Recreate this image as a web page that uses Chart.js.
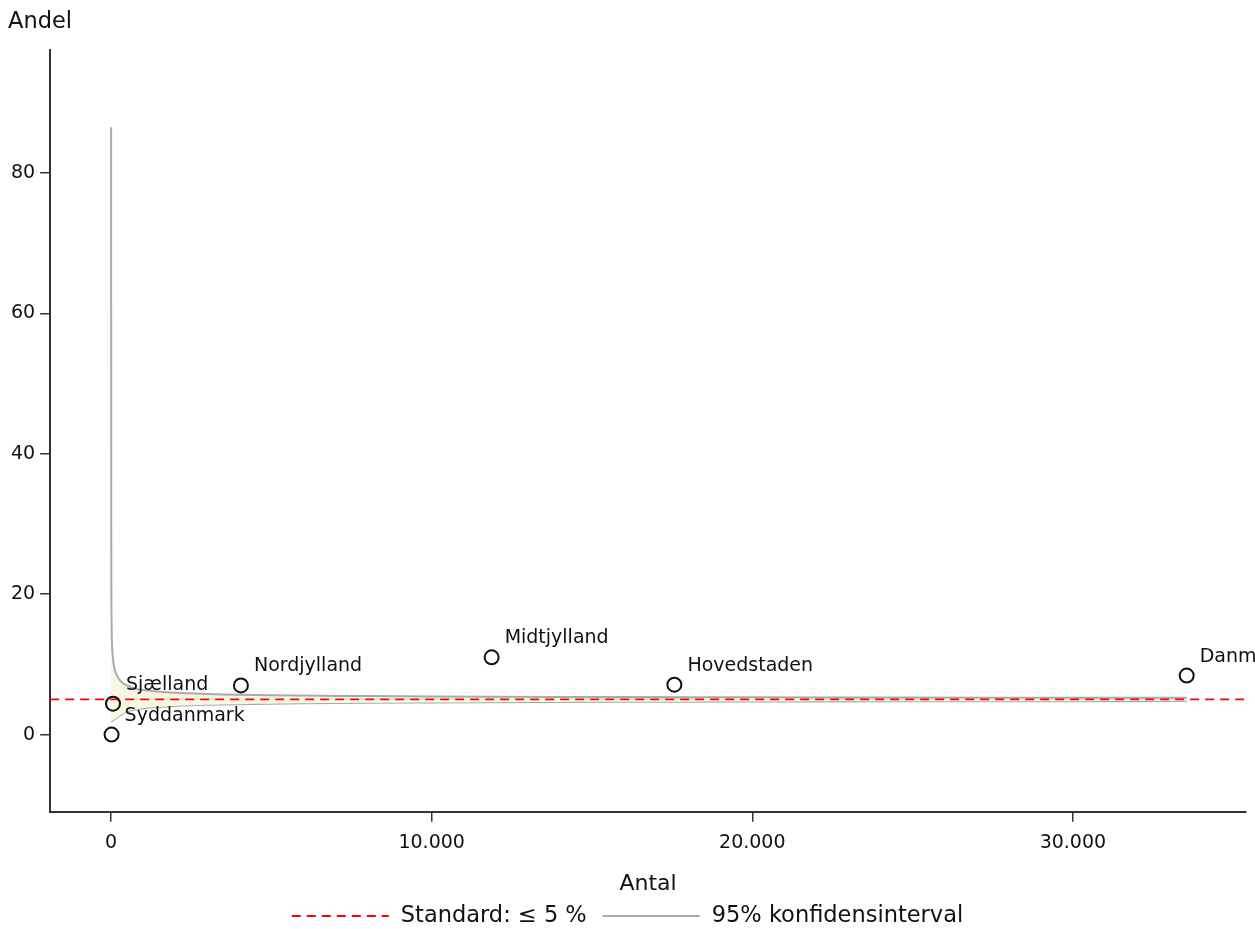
<!DOCTYPE html>
<html lang="da">
<head>
    <meta charset="UTF-8">
    <title>Andel og antal</title>
    <script src="https://cdn.jsdelivr.net/npm/chart.js"></script>
    <style>
        html, body { margin: 0; padding: 0; background: #fff; }
        #wrap { width: 1255px; height: 929px; }
    </style>
</head>
<body>
<div id="wrap"><canvas id="chart" width="1255" height="929"></canvas></div>
<script>
    // Regioner (punkter)
    const regions = ['Syddanmark', 'Sjælland', 'Nordjylland', 'Midtjylland', 'Hovedstaden', 'Danmark'];
    const regionN = [15, 60, 4050, 11870, 17570, 33550];
    const regionPct = [0, 4.4, 7.0, 11.0, 7.1, 8.4];

    // Tragt (95% konfidensinterval)
    const funnelN = [1, 5, 10, 20, 40, 80, 150, 300, 500, 800, 1200, 2000, 3000, 4000, 6000, 8000, 12000, 16000, 20000, 25000, 30000, 33550];
    const funnelUpper = [86.5, 34.7, 19.0, 14.5, 11.8, 10.0, 8.7, 7.6, 7.0, 6.5, 6.25, 5.95, 5.78, 5.68, 5.55, 5.48, 5.39, 5.34, 5.30, 5.27, 5.25, 5.23];
    const funnelLower = [1.9, 1.9, 1.9, 1.9, 2.0, 2.1, 2.3, 2.8, 3.3, 3.6, 3.85, 4.08, 4.24, 4.33, 4.45, 4.52, 4.61, 4.66, 4.70, 4.73, 4.75, 4.77];

    const standard = 5;
    const xMin = -1900, xMax = 35400;
    const yMin = -11, yMax = 97.5;
    const xTicks = [0, 10000, 20000, 30000];
    const yTicks = [0, 20, 40, 60, 80];

    const FONT = 'DejaVu Sans';
    const RED = '#ff0000', GREY = '#aaaaaa';

    const pts = (xs, ys) => xs.map((x, i) => ({ x: x, y: ys[i] }));

    const labelPlugin = {
        id: 'pointLabels',
        afterDatasetsDraw(chart) {
            const ctx = chart.ctx;
            const xs = chart.scales.x, ys = chart.scales.y;
            ctx.save();
            ctx.font = '19px "' + FONT + '"';
            ctx.fillStyle = '#111';
            ctx.textAlign = 'left';
            ctx.textBaseline = 'middle';
            regions.forEach((name, i) => {
                const px = xs.getPixelForValue(regionN[i]);
                const py = ys.getPixelForValue(regionPct[i]);
                ctx.fillText(name, px + 13, py - 19);
            });
            ctx.restore();
        }
    };

    // "Andel" øverst til venstre + forklaring nederst
    const extrasPlugin = {
        id: 'extras',
        afterDraw(chart) {
            const ctx = chart.ctx;
            ctx.save();
            ctx.font = '22.5px "' + FONT + '"';
            ctx.fillStyle = '#111';
            ctx.textBaseline = 'middle';
            ctx.textAlign = 'left';
            ctx.fillText('Andel', 8, 22);

            const items = [
                { text: 'Standard: \u2264 5 %', color: RED, dash: [9, 6], width: 1.8 },
                { text: '95% konfidensinterval', color: GREY, dash: [], width: 2 }
            ];
            const lineW = 97, gapText = 12, gapItem = 16;
            let total = 0;
            items.forEach((it, i) => {
                it.tw = ctx.measureText(it.text).width;
                total += lineW + gapText + it.tw + (i > 0 ? gapItem : 0);
            });
            let x = chart.width / 2 - total / 2;
            const y = 916;
            items.forEach((it, i) => {
                if (i > 0) x += gapItem;
                ctx.beginPath();
                ctx.setLineDash(it.dash);
                ctx.strokeStyle = it.color;
                ctx.lineWidth = it.width;
                ctx.moveTo(x, y);
                ctx.lineTo(x + lineW, y);
                ctx.stroke();
                ctx.setLineDash([]);
                x += lineW + gapText;
                ctx.fillText(it.text, x, y);
                x += it.tw;
            });
            ctx.restore();
        }
    };

    new Chart(document.getElementById('chart'), {
        type: 'scatter',
        data: {
            datasets: [
                {
                    label: '',
                    data: pts(regionN, regionPct),
                    showLine: false,
                    pointRadius: 7,
                    pointBorderWidth: 2,
                    pointBorderColor: '#111',
                    pointBackgroundColor: 'rgba(255,255,255,0)',
                    order: 0
                },
                {
                    label: 'Standard: \u2264 5 %',
                    data: [{ x: xMin, y: standard }, { x: xMax, y: standard }],
                    showLine: true,
                    borderColor: RED,
                    borderWidth: 1.8,
                    borderDash: [9, 6],
                    pointRadius: 0,
                    order: 1
                },
                {
                    label: '95% konfidensinterval',
                    data: pts(funnelN, funnelUpper),
                    showLine: true,
                    borderColor: GREY,
                    borderWidth: 2,
                    pointRadius: 0,
                    tension: 0.3,
                    fill: '+1',
                    backgroundColor: '#f6f8e2',
                    order: 2
                },
                {
                    label: '',
                    data: pts(funnelN, funnelLower),
                    showLine: true,
                    borderColor: GREY,
                    borderWidth: 2,
                    pointRadius: 0,
                    tension: 0.3,
                    order: 3
                }
            ]
        },
        options: {
            responsive: false,
            animation: false,
            layout: { padding: { top: 50, right: 7, left: 6, bottom: 32 } },
            plugins: {
                tooltip: { enabled: false },
                legend: { display: false }
            },
            scales: {
                x: {
                    type: 'linear',
                    min: xMin,
                    max: xMax,
                    afterBuildTicks: s => { s.ticks = xTicks.map(v => ({ value: v })); },
                    border: { color: '#333', width: 2 },
                    grid: { drawOnChartArea: false, color: '#333', lineWidth: 1.5, tickLength: 10 },
                    ticks: {
                        color: '#111',
                        padding: 10,
                        maxRotation: 0,
                        font: { family: FONT, size: 19 },
                        callback: v => String(v).replace(/\B(?=(\d{3})+(?!\d))/g, '.')
                    },
                    title: {
                        display: true,
                        text: 'Antal',
                        color: '#111',
                        font: { family: FONT, size: 22 },
                        padding: { top: 6, bottom: 0 }
                    }
                },
                y: {
                    type: 'linear',
                    min: yMin,
                    max: yMax,
                    afterBuildTicks: s => { s.ticks = yTicks.map(v => ({ value: v })); },
                    border: { color: '#333', width: 2 },
                    grid: { drawOnChartArea: false, color: '#333', lineWidth: 1.5, tickLength: 10 },
                    ticks: {
                        color: '#111',
                        padding: 5,
                        font: { family: FONT, size: 19 }
                    }
                }
            }
        },
        plugins: [labelPlugin, extrasPlugin]
    });
</script>
</body>
</html>
